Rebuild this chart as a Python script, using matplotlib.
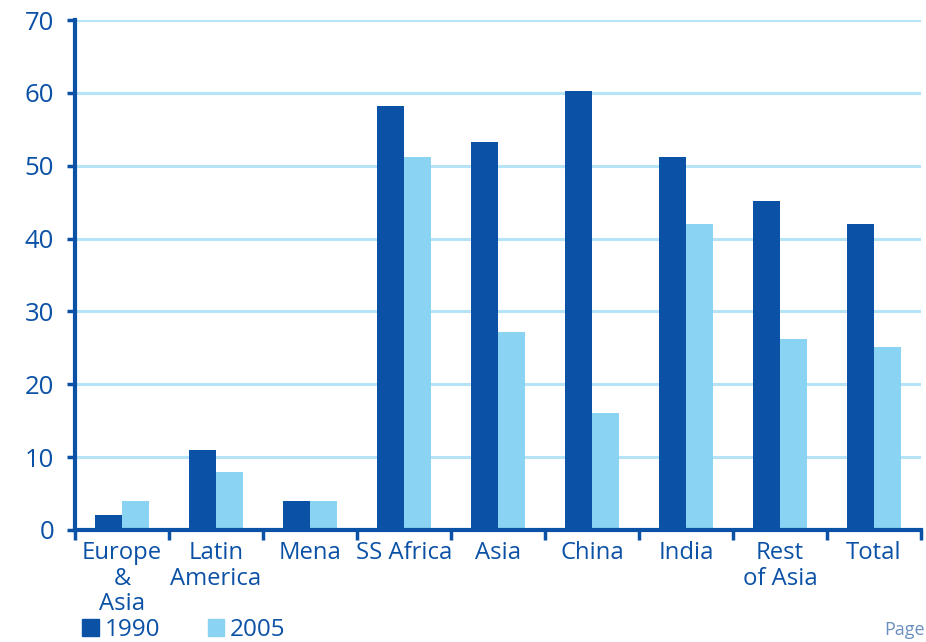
import matplotlib.pyplot as plt
import matplotlib.patches as mpatches
import numpy as np

plt.rcParams['font.family'] = ['Open Sans', 'DejaVu Sans']

regions = ["Europe\n&\nAsia", "Latin\nAmerica", "Mena", "SS Africa", "Asia",
           "China", "India", "Rest\nof Asia", "Total"]
y1990 = [2, 11, 4, 58.2, 53.2, 60.2, 51.2, 45.1, 42]
y2005 = [4, 7.9, 4, 51.2, 27.2, 16.1, 42, 26.2, 25.1]

dark = "#0B51A6"
light = "#8AD3F3"
gridc = "#B5E4F6"

fig = plt.figure(figsize=(9.26, 6.42), dpi=100)
ax = fig.add_axes([0.081, 0.1745, 0.9136, 0.7943])

x = np.arange(len(regions))
w = 0.285
ax.bar(x - w / 2, y1990, w, color=dark, zorder=3)
ax.bar(x + w / 2, y2005, w, color=light, zorder=3)

ax.set_xlim(-0.5, len(regions) - 0.5)
ax.set_ylim(0, 70)
ax.set_yticks(range(0, 71, 10))
for v in range(10, 71, 10):
    ax.axhline(v, color=gridc, lw=2.2, zorder=1)

ax.set_xticks(x)
ax.set_xticklabels(regions, linespacing=1.08)
ax.set_xticks(np.arange(-0.5, len(regions), 1), minor=True)
ax.tick_params(axis='x', which='major', length=0, pad=8, labelsize=17.2, labelcolor=dark)
ax.tick_params(axis='x', which='minor', length=7, width=2.5, color=dark, direction='out')
ax.tick_params(axis='y', length=6, width=2.5, color=dark, pad=9, labelsize=18.5, labelcolor=dark)

for s in ['top', 'right']:
    ax.spines[s].set_visible(False)
for s in ['left', 'bottom']:
    ax.spines[s].set_color(dark)
    ax.spines[s].set_linewidth(3)
    ax.spines[s].set_zorder(4)

handles = [mpatches.Patch(color=dark, label="1990"),
           mpatches.Patch(color=light, label="2005")]
fig.legend(handles=handles, loc='center left', bbox_to_anchor=(0.0886, 0.019),
           ncol=2, frameon=False, fontsize=17.5, handlelength=0.68, handleheight=0.68,
           handletextpad=0.25, columnspacing=1.95, labelcolor=dark, borderpad=0,
           borderaxespad=0)

fig.text(0.955, 0.004, "Page", color="#6A8FC0", fontsize=13, va='bottom', ha='left')

fig.savefig("out.png", dpi=100)
